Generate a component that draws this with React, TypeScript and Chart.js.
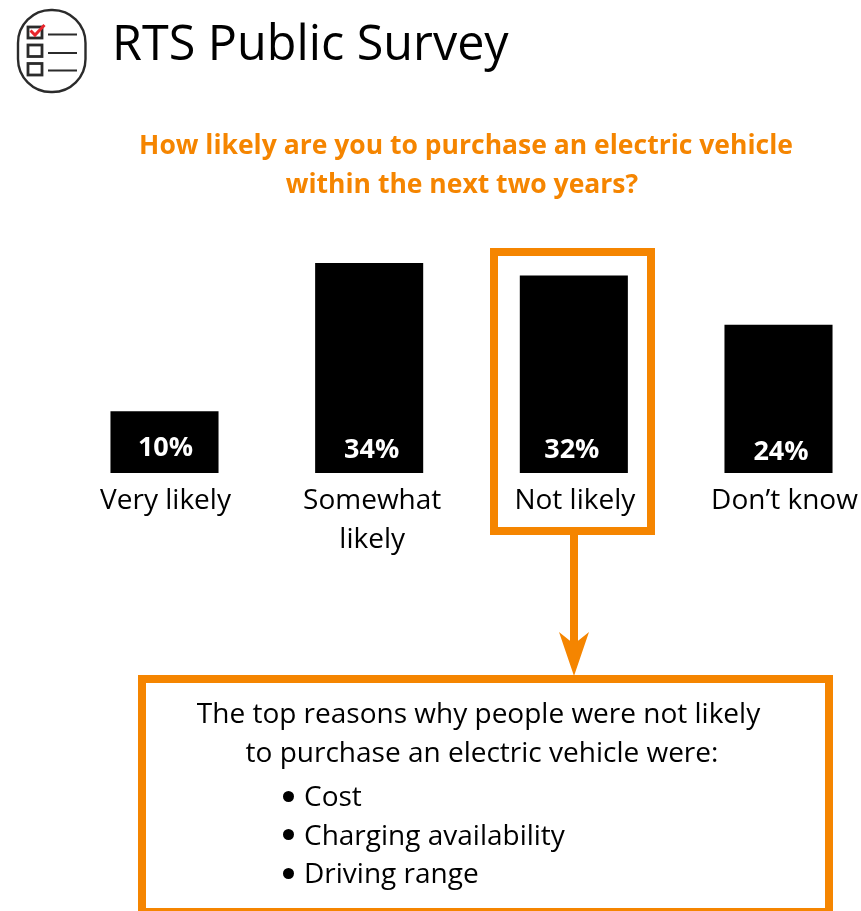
import React, { useEffect, useRef } from "react";
import { Chart, registerables } from "chart.js";

Chart.register(...registerables);

const categories: (string | string[])[] = ["Very likely", ["Somewhat", "likely"], "Not likely", "Don\u2019t know"];
const shares = [10, 34, 32, 24];
const reasons = ["Cost", "Charging availability", "Driving range"];

const ORANGE = "#F58500";
const FONT = '"Open Sans", "Noto Sans", sans-serif';
const BAR_LABEL_LIFT = [17, 15, 15, 13];
const BAR_LABEL_SHIFT = [1, 2.5, -2, 2.5];
const TICK_LABEL_SHIFT = [1, 3, 1, 6];

// Writes each share in white near the foot of its bar, and eases the axis labels off their ticks.
const shareLabels = {
  id: "shareLabels",
  beforeDraw(chart: Chart) {
    const items = (chart.scales.x as any).getLabelItems(chart.chartArea);
    items.forEach((item: any, i: number) => {
      item.options.translation[0] += TICK_LABEL_SHIFT[i];
    });
  },
  afterDatasetsDraw(chart: Chart) {
    const { ctx } = chart;
    const bars = chart.getDatasetMeta(0).data;
    const y0 = chart.chartArea.bottom;
    ctx.save();
    ctx.fillStyle = "#fff";
    ctx.font = `700 27px ${FONT}`;
    ctx.textAlign = "center";
    ctx.textBaseline = "alphabetic";
    bars.forEach((bar: any, i: number) => {
      ctx.fillText(`${shares[i]}%`, bar.x + BAR_LABEL_SHIFT[i], y0 - BAR_LABEL_LIFT[i]);
    });
    ctx.restore();
  },
};

function SurveyChart() {
  const ref = useRef<HTMLCanvasElement>(null);
  useEffect(() => {
    const chart = new Chart(ref.current!, {
      type: "bar",
      data: {
        labels: categories as any,
        datasets: [
          {
            data: shares,
            backgroundColor: "#000",
            barPercentage: 0.528,
            categoryPercentage: 1,
            clip: false as any,
          },
        ],
      },
      options: {
        animation: false,
        responsive: false,
        events: [],
        // The outer bars sit on the scale's ends, so the area spans first to last centre.
        layout: { padding: { left: 164.5, right: 82.5, top: 226, bottom: 338 } },
        plugins: { legend: { display: false }, tooltip: { enabled: false }, title: { display: false } },
        scales: {
          y: { display: false, min: 0, max: 40 },
          x: {
            offset: false,
            grid: { display: false },
            border: { display: false },
            afterFit(scale: any) {
              scale.height = 100;
            },
            ticks: {
              autoSkip: false,
              maxRotation: 0,
              minRotation: 0,
              padding: 1,
              color: "#000",
              font: { family: FONT, size: 28, lineHeight: 1.38 },
            },
          },
        },
      },
      plugins: [shareLabels],
    });
    return () => chart.destroy();
  }, []);
  return <canvas ref={ref} width={861} height={911} style={{ position: "absolute", left: 0, top: 0, display: "block" }} />;
}

function SurveyIcon() {
  return (
    <svg width={120} height={100} style={{ position: "absolute", left: 0, top: 0 }} fill="none" stroke="#2b2b2b">
      <rect x={18} y={10} width={67.5} height={82} rx={33} ry={33} strokeWidth={2.4} />
      <rect x={28} y={27} width={14} height={11} strokeWidth={2.8} />
      <rect x={28} y={45} width={14} height={11.5} strokeWidth={2.8} />
      <rect x={28} y={63.5} width={14} height={11.5} strokeWidth={2.8} />
      <path d="M48 34.5H77M48 53H77M48 70.5H77" strokeWidth={2.2} />
      <path d="M30.5 30.5L35 35L44.5 25" stroke="#E8262D" strokeWidth={3} />
    </svg>
  );
}

function Connectors() {
  return (
    <svg width={861} height={911} style={{ position: "absolute", left: 0, top: 0 }} fill="none" stroke={ORANGE}>
      <rect x={494} y={252} width={157} height={279} strokeWidth={8} />
      <path d="M574 535V650" strokeWidth={8} />
      <path d="M559 632L574 644L589 632L574 676Z" fill={ORANGE} stroke="none" />
      <rect x={142} y={679} width={687} height={233} strokeWidth={8} />
    </svg>
  );
}

const lineStyle: React.CSSProperties = {
  position: "absolute",
  whiteSpace: "nowrap",
  fontFamily: FONT,
  color: "#000",
};

function Centered({ text, cx, y, size, weight, color }: { text: string; cx: number; y: number; size: number; weight?: number; color?: string }) {
  return (
    <div style={{ ...lineStyle, left: cx, top: y, transform: "translate(-50%, -50%)", fontSize: size, fontWeight: weight ?? 400, color: color ?? "#000", lineHeight: 1 }}>
      {text}
    </div>
  );
}

export default function App() {
  return (
    <div style={{ position: "absolute", left: 0, top: 0, width: 861, height: 911, overflow: "hidden", background: "#fff" }}>
      <SurveyChart />
      <SurveyIcon />
      <Connectors />
      <div style={{ ...lineStyle, left: 112, top: 11, fontSize: 48.5, lineHeight: "60px" }}>RTS Public Survey</div>
      <Centered text="How likely are you to purchase an electric vehicle" cx={466} y={143.5} size={26.5} weight={700} color={ORANGE} />
      <Centered text="within the next two years?" cx={462} y={182.5} size={26.5} weight={700} color={ORANGE} />
      <Centered text="The top reasons why people were not likely" cx={478.5} y={712} size={28} />
      <Centered text="to purchase an electric vehicle were:" cx={482} y={751} size={28} />
      {reasons.map((r, i) => (
        <div key={r} style={{ ...lineStyle, left: 304, top: 795 + i * 38.7, transform: "translateY(-50%)", fontSize: 28, lineHeight: 1 }}>
          <span style={{ position: "absolute", left: -21, top: "50%", marginTop: -4.5, width: 11, height: 11, borderRadius: "50%", background: "#000" }} />
          {r}
        </div>
      ))}
    </div>
  );
}
